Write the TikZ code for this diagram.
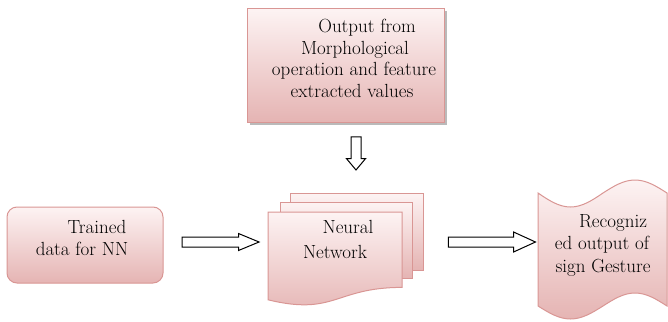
\documentclass[tikz,border=0pt]{standalone}
\usetikzlibrary{shapes.arrows,shadows}
\definecolor{edgepink}{RGB}{217,150,148}
\definecolor{pinktop}{RGB}{253,243,243}
\definecolor{pinkbot}{RGB}{229,180,179}
\tikzset{
  shapefill/.style={draw=edgepink, line width=1pt, top color=pinktop, bottom color=pinkbot},
  softshadow/.style={drop shadow={shadow xshift=2.5pt, shadow yshift=-2.5pt, opacity=0.45, fill=black!60}},
  txt/.style={anchor=base, inner sep=0pt, font=\rmfamily\fontsize{19}{22}\selectfont},
  blockarrow/.style={single arrow, draw=black, fill=white, line width=1pt,
    inner xsep=0pt, inner ysep=4.5pt, text height=0pt, text depth=0pt,
    single arrow head indent=0pt},
}
\begin{document}
\begin{tikzpicture}[x=1pt,y=-1pt]
\useasboundingbox (0,0) rectangle (668,321);

% input box at the top
\node[shapefill, softshadow, rectangle, minimum width=197pt, minimum height=113pt] (outbox) at (345.5,65.5) {};
\node[txt] (o1) at (367,33) {Output from};
\node[txt] (o2) at (355,54) {Morphological};
\node[txt] (o3) at (354,75.5) {operation and feature};
\node[txt] (o4) at (352,97) {extracted values};

% training data box
\node[shapefill, rectangle, rounded corners=10pt, minimum width=156pt, minimum height=76pt] (trained) at (85,245) {};
\node[txt] (t1) at (97,233) {Trained};
\node[txt] (t2) at (82,255) {data for NN};

% neural network: stacked document sheets
\path[shapefill] (290,193) rectangle (423,270);
\path[shapefill] (280,202) rectangle (412,278);
\path[shapefill] (268,212) -- (402,212) -- (402,287.4)
  .. controls (335,287.4) and (335,316.1) .. (268,299.8) -- cycle;
\node[txt] (n1) at (348,233) {Neural};
\node[txt] (n2) at (335,258) {Network};

% recognized output: punched tape
\path[shapefill] (538,193) sin (570.5,207) cos (603,193) sin (635,180) cos (667,193)
  -- (667,306) sin (635,293) cos (603,306) sin (570.5,319) cos (538,306) -- cycle;
\node[txt] (r1) at (613,227) {Recogniz};
\node[txt] (r2) at (602,249.5) {ed output of};
\node[txt] (r3) at (603,272) {sign Gesture};

% block arrows
\node[blockarrow, rotate=-90, minimum height=33pt, single arrow head extend=4.5pt,
  single arrow tip angle=80] (arrowdown) at (356,150.5) {};
\node[blockarrow, minimum height=77pt, single arrow head extend=3.5pt,
  single arrow tip angle=45] (arrowleft) at (214.5,242) {};
\node[blockarrow, minimum height=87pt, single arrow head extend=5pt,
  single arrow tip angle=49] (arrowright) at (486.5,242) {};
\end{tikzpicture}
\end{document}
